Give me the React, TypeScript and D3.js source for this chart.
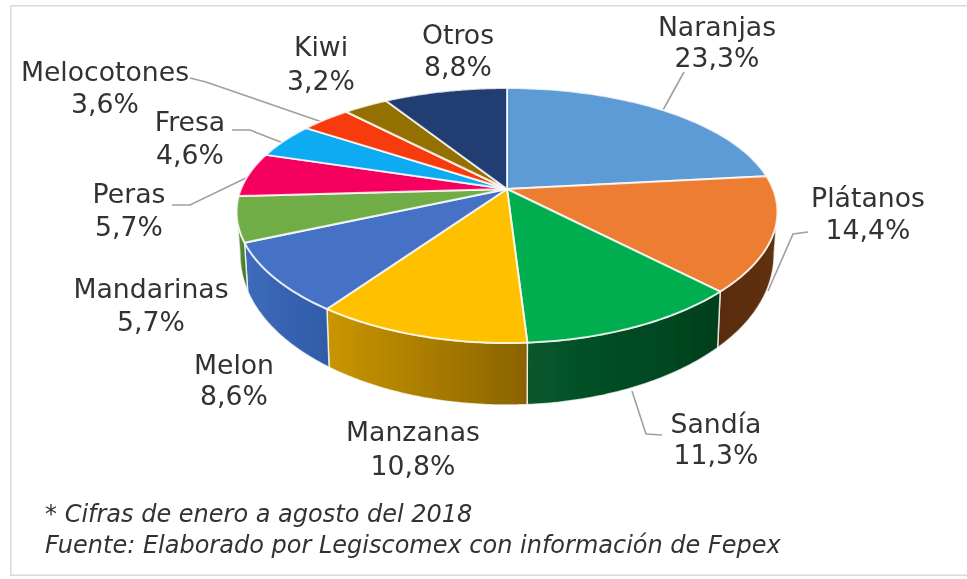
import React from "react";
import * as d3 from "d3";

const categories = ["Naranjas","Plátanos","Sandía","Manzanas","Melon","Mandarinas","Peras","Fresa","Melocotones","Kiwi","Otros"];
const values = [23.3,14.4,11.3,10.8,8.6,5.7,5.7,4.6,3.6,3.2,8.8];
const valueLabels = ["23,3%","14,4%","11,3%","10,8%","8,6%","5,7%","5,7%","4,6%","3,6%","3,2%","8,8%"];
const topColors = ["#5B9BD5","#ED7D31","#05AD50","#FFC000","#4472C4","#70AD47","#F5055F","#10ACF2","#F83A08","#947000","#203C72"];
const sideLeft = ["#5B9BD5","#5a2c0c","#07572b","#C99600","#3D6BBB","#5f9a3a","#F5055F","#10ACF2","#F83A08","#947000","#203C72"];
const sideRight = ["#5B9BD5","#5f300f","#03401c","#8A6300","#2F5CA8","#4a7a2c","#F5055F","#10ACF2","#F83A08","#947000","#203C72"];
const footnotes = ["* Cifras de enero a agosto del 2018","Fuente: Elaborado por Legiscomex con información de Fepex"];

// layout, kept apart from the data
const labelPos: [number, number, number][] = [[717,36,67],[868,207,239],[716,433,464],[413,441,475],[234,374,405],[151,298,331],[129,203,236],[190,131,164],[105,81,113],[321,56,90],[458,44,76]];
const leaders: Record<string,[number,number][]> = {
  Naranjas:[[684,72],[663,110]],
  "Plátanos":[[808,232],[793,234],[768,291]],
  "Sandía":[[662,435],[646,434],[632,391]],
  Melocotones:[[190,78],[206,82],[322,122]],
  Fresa:[[232,130],[250,130],[283,143]],
  Peras:[[172,205],[190,205],[246,178]],
};
const CX = 507, CY = 189, A = 266, B = 122, K = 0.208, KX = 0.18;

const project = (t: number): [number, number] => {
  const u = Math.sin(t), v = Math.cos(t);
  return [CX + (A * u) / (1 + KX * v), CY - (B * v) / (1 + K * v)];
};
const depth = (t: number) => {
  const v = Math.cos(t);
  return v < 0 ? 30 + 32 * Math.pow(-v, 0.6) : 30;
};
const lower = (t: number): [number, number] => {
  const [x, y] = project(t);
  return [CX + (x - CX) * 0.988, y + depth(t)];
};
const samples = (a: number, b: number) => d3.range(0, 61).map((i) => a + ((b - a) * i) / 60);
const line = d3.line();
const VIS0 = Math.acos(-KX), VIS1 = 2 * Math.PI - VIS0;

export default function App() {
  const arcs = d3.pie<number>().sort(null)(values);
  return (
    <svg width={967} height={579} style={{ position: "absolute", left: 0, top: 0, background: "#fff" }} fontFamily="'DejaVu Sans', Verdana, sans-serif">
      <defs>
        {arcs.map((a, i) => {
          const p0 = project(a.startAngle)[0], p1 = project(a.endAngle)[0];
          return (
            <linearGradient key={i} id={`side${i}`} gradientUnits="userSpaceOnUse" x1={Math.min(p0, p1)} y1={0} x2={Math.max(p0, p1)} y2={0}>
              <stop offset="0" stopColor={sideLeft[i]} />
              <stop offset="1" stopColor={sideRight[i]} />
            </linearGradient>
          );
        })}
        <filter id="soft" x="0" y="0" width="100%" height="100%">
          <feGaussianBlur stdDeviation={0.5} />
        </filter>
      </defs>
      <g filter="url(#soft)">
        <rect x={10.5} y={5.5} width={970} height={570} fill="#fff" stroke="#d9d9d9" strokeWidth={2} />
        {Object.entries(leaders).map(([k, pts]) => (
          <path key={k} d={line(pts) ?? ""} fill="none" stroke="#a0a0a0" strokeWidth={1.6} />
        ))}
        {arcs.map((a, i) => {
          const s = Math.max(a.startAngle, VIS0), e = Math.min(a.endAngle, VIS1);
          if (e <= s) return null;
          const ts = samples(s, e);
          const pts = [...ts.map(project), ...ts.slice().reverse().map(lower)];
          return <path key={i} d={(line(pts) ?? "") + "Z"} fill={`url(#side${i})`} stroke="#fff" strokeOpacity={0.75} strokeWidth={1.5} strokeLinejoin="round" />;
        })}
        {arcs.map((a, i) => {
          const pts: [number, number][] = [[CX, CY], ...samples(a.startAngle, a.endAngle).map(project)];
          return <path key={i} d={(line(pts) ?? "") + "Z"} fill={topColors[i]} stroke="#fff" strokeOpacity={0.8} strokeWidth={2} strokeLinejoin="round" />;
        })}
        {categories.map((c, i) => (
          <text key={c} textAnchor="middle" fontSize={26.7} fill="#333">
            <tspan x={labelPos[i][0]} y={labelPos[i][1]}>{c}</tspan>
            <tspan x={labelPos[i][0]} y={labelPos[i][2]}>{valueLabels[i]}</tspan>
          </text>
        ))}
        {footnotes.map((t, i) => (
          <text key={t} x={45} y={522 + i * 31} fontSize={24} fontStyle="italic" fill="#333">{t}</text>
        ))}
      </g>
    </svg>
  );
}
